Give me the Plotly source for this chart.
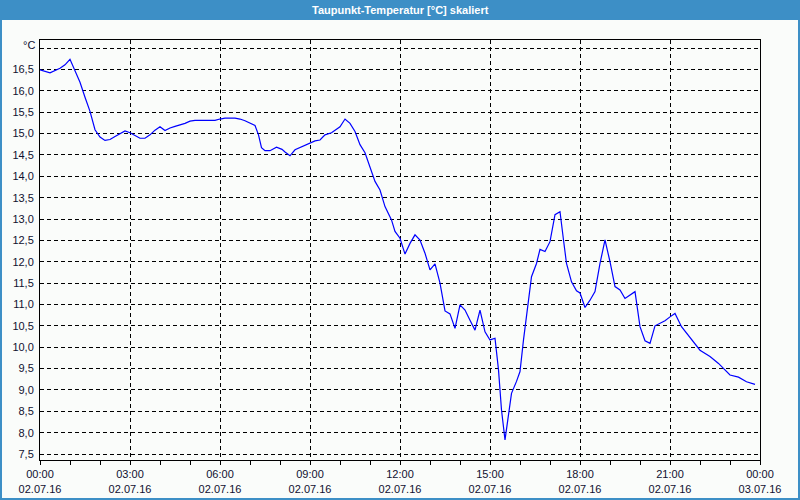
import plotly.graph_objects as go

# --- data ---
times = ["00:00","00:20","00:40","00:50","01:00","01:10","01:20","01:30","01:40","01:50",
         "02:00","02:10","02:20","02:30","02:40","02:50","03:00","03:10","03:20","03:30",
         "03:40","03:50","04:00","04:10","04:20","04:30","04:40","04:50","05:00","05:10",
         "05:30","05:50","06:00","06:10","06:30","06:40","06:50","07:00","07:10","07:17",
         "07:23","07:30","07:40","07:53","08:04","08:10","08:20","08:30","08:40","08:53",
         "09:10","09:20","09:30","09:43","10:00","10:10","10:20","10:30","10:40","10:50",
         "11:00","11:10","11:20","11:30","11:43","11:50","12:00","12:10","12:20","12:30",
         "12:40","12:50","13:00","13:10","13:20","13:30","13:40","13:50","14:00","14:10",
         "14:20","14:30","14:40","14:50","15:00","15:10","15:17","15:23","15:30","15:37",
         "15:43","15:53","16:00","16:07","16:17","16:23","16:33","16:40","16:50","17:00",
         "17:10","17:20","17:27","17:33","17:43","17:53","18:00","18:10","18:20","18:30",
         "18:40","18:50","19:00","19:10","19:20","19:30","19:50","20:00","20:10","20:20",
         "20:30","20:50","21:00","21:10","21:23","21:40","22:00","22:20","22:37","23:00",
         "23:17","23:33","23:50"]
dewpoint = [16.49,16.42,16.53,16.61,16.74,16.49,16.20,15.85,15.52,15.09,
            14.92,14.84,14.86,14.93,14.99,15.06,15.02,14.95,14.89,14.89,
            14.97,15.08,15.16,15.07,15.13,15.17,15.20,15.24,15.29,15.31,
            15.31,15.31,15.34,15.36,15.36,15.34,15.30,15.25,15.19,14.97,
            14.67,14.60,14.60,14.68,14.63,14.57,14.48,14.62,14.67,14.74,
            14.83,14.85,14.97,15.02,15.16,15.34,15.24,15.05,14.74,14.55,
            14.23,13.88,13.68,13.29,12.98,12.71,12.55,12.18,12.43,12.63,
            12.51,12.20,11.81,11.95,11.50,10.85,10.78,10.44,10.99,10.87,
            10.63,10.40,10.87,10.36,10.17,10.21,9.47,8.53,7.83,8.37,
            8.92,9.20,9.43,10.17,11.10,11.65,11.96,12.29,12.24,12.47,
            13.10,13.17,12.51,11.96,11.53,11.32,11.27,10.93,11.10,11.30,
            11.96,12.51,12.00,11.42,11.34,11.14,11.30,10.48,10.15,10.09,
            10.50,10.62,10.71,10.79,10.48,10.22,9.93,9.78,9.62,9.35,
            9.30,9.19,9.13]

y_ticks = [7.5,8.0,8.5,9.0,9.5,10.0,10.5,11.0,11.5,12.0,12.5,13.0,13.5,14.0,14.5,15.0,15.5,16.0,16.5,17.0]
y_ticktext = ["7,5","8,0","8,5","9,0","9,5","10,0","10,5","11,0","11,5","12,0","12,5",
              "13,0","13,5","14,0","14,5","15,0","15,5","16,0","16,5",""]
x_tickvals = ["2016-07-02 00:00","2016-07-02 03:00","2016-07-02 06:00","2016-07-02 09:00",
              "2016-07-02 12:00","2016-07-02 15:00","2016-07-02 18:00","2016-07-02 21:00",
              "2016-07-03 00:00"]
x_ticktext = ["00:00<br>02.07.16","03:00<br>02.07.16","06:00<br>02.07.16","09:00<br>02.07.16",
              "12:00<br>02.07.16","15:00<br>02.07.16","18:00<br>02.07.16","21:00<br>02.07.16",
              "00:00<br>03.07.16"]
title = "Taupunkt-Temperatur [°C] skaliert"
unit = "°C"

x = ["2016-07-02 " + t for t in times]

BLUE = "#3D8FC6"
BG = "#FAFCFA"
FONT = "Liberation Sans"

fig = go.Figure()
fig.add_trace(go.Scatter(x=x, y=dewpoint, mode="lines",
                         line=dict(color="#0000FF", width=1.2), showlegend=False,
                         hoverinfo="x+y"))

fig.update_layout(
    width=800, height=500,
    margin=dict(l=40, r=40, t=40, b=40, autoexpand=False),
    paper_bgcolor=BG, plot_bgcolor=BG,
    font=dict(family=FONT, size=11, color="#101030"),
    showlegend=False,
)
fig.update_xaxes(
    type="date", automargin=False,
    range=["2016-07-02 00:00", "2016-07-03 00:00"],
    tickvals=x_tickvals, ticktext=x_ticktext,
    showgrid=True, gridcolor="black", gridwidth=1, griddash="4px,3px",
    showline=True, linecolor="black", linewidth=1, mirror=True,
    ticks="outside", ticklen=4, tickcolor="black",
    minor=dict(dtick=3600000, tick0="2016-07-02 00:00", ticks="outside", ticklen=4,
               tickcolor="black", showgrid=False),
    zeroline=False, tickfont=dict(size=11, family=FONT),
)
fig.update_yaxes(
    range=[7.36, 17.19], automargin=False,
    tickvals=y_ticks, ticktext=y_ticktext,
    showgrid=True, gridcolor="black", gridwidth=1, griddash="4px,3px",
    showline=True, linecolor="black", linewidth=1, mirror=True,
    ticks="", ticklabelstandoff=3,
    zeroline=False, tickfont=dict(size=11, family=FONT),
)

# Title bar
fig.add_shape(type="rect", xref="paper", yref="paper",
              x0=-40/720, x1=760/720, y0=(460-20)/420, y1=460/420,
              fillcolor=BLUE, line=dict(width=0), layer="above")
# Outer border
fig.add_shape(type="rect", xref="paper", yref="paper",
              x0=-39/720, x1=759/720, y0=(460-499)/420, y1=460/420,
              fillcolor="rgba(0,0,0,0)", line=dict(color=BLUE, width=2), layer="above")

fig.add_annotation(text=title, xref="paper", yref="paper", x=0.5, y=(460-10)/420,
                   showarrow=False, xanchor="center", yanchor="middle",
                   font=dict(family=FONT, size=11, color="white", weight="bold"))
fig.add_annotation(text=unit, xref="paper", yref="paper", x=-3/720, y=(460-45)/420,
                   showarrow=False, xanchor="right", yanchor="middle",
                   font=dict(family=FONT, size=11, color="#101030"))

fig.write_html("out.html")
